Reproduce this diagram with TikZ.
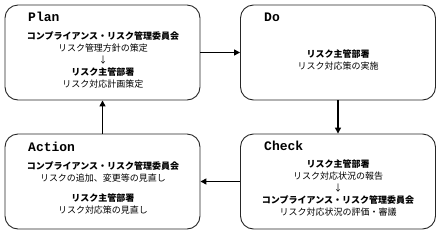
\documentclass[tikz,border=0pt]{standalone}
\usepackage{fontspec}
\newfontfamily\jp{Noto Sans CJK JP}
\newfontfamily\ttl{Liberation Mono}
\usetikzlibrary{arrows.meta}
\tikzset{
  box/.style={draw=black!85, line width=0.9pt, rounded corners=13pt, minimum width=195pt, minimum height=95pt, inner sep=0pt},
  ttlstyle/.style={anchor=west, font=\ttl\bfseries\fontsize{13}{13}\selectfont, inner sep=0pt},
  body/.style={align=center, font=\jp\fontsize{9}{12}\selectfont, inner sep=0pt},
  arr/.style={line width=1.3pt, -{Triangle[length=6pt,width=6pt]}},
}
\begin{document}
\begin{tikzpicture}[x=1pt,y=-1pt]
\useasboundingbox (0,0) rectangle (440,234);
\node[box] (plan) at (102.5,52.5) {};
\node[box] (do) at (338,52.5) {};
\node[box] (action) at (102.5,181.5) {};
\node[box] (check) at (338,181.5) {};
\node[ttlstyle] (tplan) at (28,17) {Plan};
\node[ttlstyle] (tdo) at (264,17) {Do};
\node[ttlstyle] (taction) at (28,147) {Action};
\node[ttlstyle] (tcheck) at (264,146) {Check};
\node[body] (bplan) at (103,60) {\textbf{コンプライアンス・リスク管理委員会}\\リスク管理方針の策定\\↓\\\textbf{リスク主管部署}\\リスク対応計画策定};
\node[body] (bdo) at (338,60) {\textbf{リスク主管部署}\\リスク対応策の実施};
\node[body] (baction) at (103,188) {\textbf{コンプライアンス・リスク管理委員会}\\リスクの追加、変更等の見直し\\[8pt]\textbf{リスク主管部署}\\リスク対応策の見直し};
\node[body] (bcheck) at (338,188) {\textbf{リスク主管部署}\\リスク対応状況の報告\\↓\\\textbf{コンプライアンス・リスク管理委員会}\\リスク対応状況の評価・審議};
\draw[arr] (plan.east) -- (do.west);
\draw[arr] (do.south) -- (check.north);
\draw[arr] (check.west) -- (action.east);
\draw[arr] (action.north) -- (plan.south);
\end{tikzpicture}
\end{document}
